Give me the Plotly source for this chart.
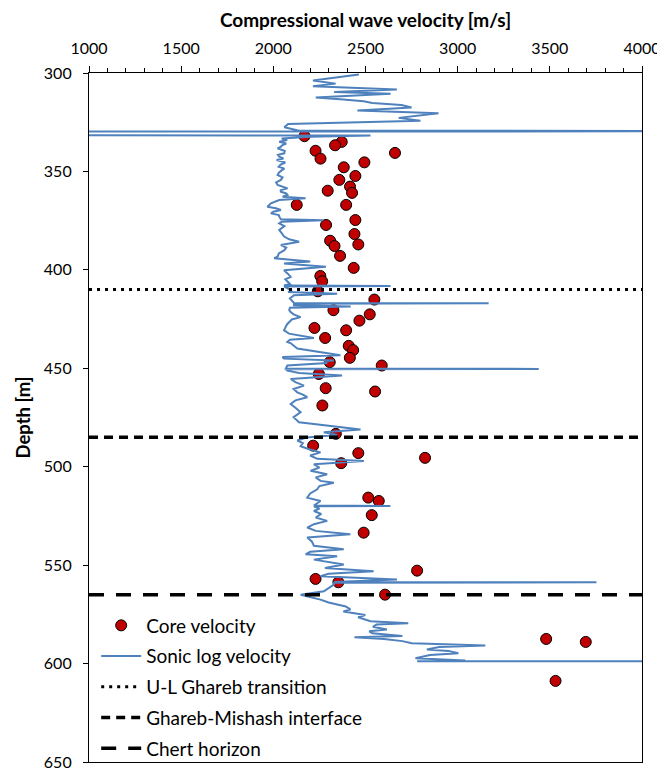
import plotly.graph_objects as go

# ---------------- data ----------------
core_velocity = [2169, 2371, 2335, 2229, 2660, 2256, 2494, 2382, 2445, 2358,
                 2416, 2427, 2295, 2127, 2395, 2445, 2286, 2440, 2308, 2332,
                 2461, 2362, 2436, 2255, 2265, 2241, 2548, 2326, 2523, 2467,
                 2223, 2395, 2281, 2409, 2433, 2415, 2306, 2588, 2247, 2284,
                 2552, 2266, 2339, 2216, 2461, 2823, 2368, 2515, 2572, 2534,
                 2490, 2780, 2229, 2353, 2606, 3480, 3695, 3531]
core_depth = [332.1, 335.0, 336.7, 339.5, 340.6, 343.5, 345.4, 347.9, 352.3, 354.3,
              357.7, 360.9, 359.8, 367.0, 367.0, 374.7, 377.2, 381.8, 385.2, 387.9,
              387.1, 392.9, 399.0, 403.1, 405.8, 410.9, 415.1, 420.5, 422.6, 425.8,
              429.5, 430.7, 434.6, 438.6, 440.8, 444.7, 446.9, 448.6, 452.9, 460.1,
              461.8, 468.9, 483.3, 489.3, 493.1, 495.5, 498.2, 515.7, 517.4, 524.6,
              533.5, 552.8, 557.0, 558.7, 565.0, 587.5, 589.0, 608.8]

log_depth = [300.8, 302.5, 303.8, 305.4, 306.7, 308.4, 309.7, 310.6, 312.4, 313.5,
             314.4, 315.2, 316.3, 317.5, 319.1, 320.4, 322.8, 324.3, 325.9, 327.6,
             328.5, 329.3, 329.55, 329.8, 331.6, 331.8, 332.4, 333.3, 334.1, 334.9,
             335.8, 336.6, 337.5, 338.3, 339.6, 340.8, 341.6, 342.5, 343.4, 344.2,
             345.5, 346.5, 347.6, 348.6, 349.5, 350.6, 351.8, 353.0, 354.3, 355.6,
             356.9, 358.6, 359.5, 360.3, 361.2, 362.0, 362.8, 363.6, 364.5, 366.2,
             367.9, 368.7, 369.6, 370.5, 371.3, 372.2, 373.0, 374.3, 374.8, 375.6,
             376.4, 377.8, 379.7, 381.4, 383.1, 384.5, 385.7, 387.4, 388.7, 390.0,
             391.6, 393.3, 394.1, 395.8, 396.8, 398.4, 400.2, 401.8, 403.6, 404.8,
             406.1, 407.2, 408.0, 408.2, 408.4, 409.2, 410.5, 411.3, 412.1, 412.9,
             414.5, 416.8, 417.0, 417.2, 418.0, 418.6, 419.2, 420.4, 421.4, 422.6,
             424.0, 425.2, 426.5, 427.6, 428.8, 430.7, 432.4, 434.6, 435.5, 436.6,
             437.3, 438.6, 440.0, 443.4, 444.3, 445.1, 446.0, 446.6, 447.3, 448.6,
             450.1, 450.3, 450.5, 451.2, 452.4, 453.7, 455.4, 457.0, 458.8, 460.5,
             462.2, 463.4, 464.7, 466.3, 468.1, 470.0, 472.3, 474.8, 477.4, 478.3,
             481.1, 482.5, 483.9, 485.2, 486.7, 488.0, 489.6, 491.0, 492.7, 494.3,
             496.0, 497.1, 498.8, 500.4, 502.1, 503.8, 505.4, 507.2, 508.1, 509.8,
             511.5, 513.6, 515.7, 517.4, 519.7, 519.9, 520.1, 521.3, 522.5, 524.0,
             525.8, 527.5, 529.2, 530.9, 532.6, 534.3, 536.0, 538.1, 540.2, 541.9,
             543.2, 544.5, 545.5, 547.2, 548.5, 549.7, 551.4, 553.1, 554.4, 555.6,
             557.3, 558.5, 558.7, 558.9, 559.9, 561.6, 563.3, 565.0, 566.2, 567.5,
             569.0, 571.0, 572.5, 573.5, 575.3, 576.5, 578.5, 579.5, 580.2, 581.3,
             582.7, 583.6, 584.6, 585.4, 586.0, 586.6, 587.5, 588.6, 589.7, 590.8,
             591.6, 592.9, 593.6, 594.7, 595.6, 597.3, 598.0, 598.5, 598.8, 599.0,
             599.0]
log_velocity = [2464, 2330, 2215, 2338, 2215, 2670, 2330, 2636, 2230, 2380,
                2490, 2537, 2695, 2750, 2456, 2896, 2680, 2798, 2080, 2060,
                2095, 2140, 6000, 0, 0, 2527, 2200, 2045, 2075, 2032,
                2070, 2050, 2040, 2023, 2062, 2059, 2025, 2032, 2055, 2018,
                2065, 2040, 2029, 2060, 2045, 2030, 2023, 2050, 2041, 2015,
                2023, 2077, 2040, 2041, 2070, 2077, 2050, 2175, 2032, 1987,
                1968, 2014, 2041, 2000, 1987, 2030, 2032, 2041, 2270, 2045,
                2032, 2060, 2032, 2045, 2059, 2086, 2140, 2041, 2070, 2060,
                2030, 2023, 2005, 2200, 2058, 2285, 2058, 2077, 2094, 2065,
                2076, 2090, 2058, 2636, 2058, 2076, 2100, 2080, 2346, 2112,
                2090, 2112, 3168, 2112, 2112, 2420, 2090, 2086, 2094, 2110,
                2148, 2100, 2085, 2075, 2068, 2058, 2085, 2220, 2090, 2076,
                2095, 2110, 2130, 2364, 2050, 2058, 2328, 2276, 2292, 2076,
                2068, 3440, 2068, 2076, 2140, 2373, 2094, 2120, 2166, 2110,
                2130, 2160, 2184, 2120, 2094, 2120, 2148, 2110, 2139, 2220,
                2473, 2274, 2346, 2180, 2130, 2160, 2148, 2190, 2256, 2200,
                2238, 2491, 2220, 2250, 2202, 2292, 2230, 2256, 2328, 2250,
                2238, 2200, 2184, 2256, 2220, 2635, 2220, 2250, 2220, 2260,
                2230, 2292, 2220, 2184, 2230, 2418, 2184, 2210, 2220, 2382,
                2200, 2175, 2346, 2220, 2300, 2382, 2280, 2544, 2300, 2256,
                2671, 2330, 3753, 2330, 2328, 2300, 2274, 2148, 2200, 2256,
                2300, 2393, 2418, 2380, 2499, 2460, 2527, 2732, 2560, 2540,
                2616, 2520, 2538, 2640, 2700, 2440, 2600, 2700, 2751, 3150,
                2900, 2833, 2950, 3004, 2850, 2771, 2900, 3042, 2780, 3011,
                6000]

horizon_names = ["U-L Ghareb transition", "Ghareb-Mishash interface", "Chert horizon"]
horizon_depths = [410, 485, 565]
horizon_dash = ["3px,5px", "9px,6px", "15px,12px"]

x_range = [1000, 4000]
x_ticks = [1000, 1500, 2000, 2500, 3000, 3500, 4000]
y_range = [650, 300]
y_ticks = [300, 350, 400, 450, 500, 550, 600, 650]

FONT = "Lato, Open Sans, sans-serif"

fig = go.Figure()

fig.add_trace(go.Scatter(
    x=core_velocity, y=core_depth, mode="markers", name="Core velocity",
    legendgroup="g1",
    marker=dict(color="#C00000", size=11, line=dict(color="black", width=1)),
))
fig.add_trace(go.Scatter(
    x=log_velocity, y=log_depth, mode="lines", name="Sonic log velocity",
    legendgroup="g2",
    line=dict(color="#4F81BD", width=2),
))
for i, (nm, dpt, ds) in enumerate(zip(horizon_names, horizon_depths, horizon_dash)):
    fig.add_trace(go.Scatter(
        x=x_range, y=[dpt, dpt], mode="lines", name=nm, legendgroup=f"h{i}",
        line=dict(color="black", width=3.5 if i else 3, dash=ds),
    ))

# page body adds an 8px offset, so the figure is drawn 8px smaller
fig.update_layout(
    width=657, height=761,
    margin=dict(l=81, r=23, t=65, b=7, autoexpand=False),
    paper_bgcolor="white", plot_bgcolor="white",
    font=dict(family=FONT, size=16, color="black"),
    showlegend=True,
    legend=dict(x=0.013, y=-0.008, xanchor="left", yanchor="bottom",
                bgcolor="rgba(255,255,255,0)", borderwidth=0,
                font=dict(family=FONT, size=19, color="black"),
                tracegroupgap=3, itemwidth=40),
    xaxis=dict(
        side="top", range=x_range, tickvals=x_ticks, showgrid=False, zeroline=False,
        showline=True, linecolor="black", linewidth=1.2, mirror=True,
        ticks="outside", ticklen=6, tickcolor="black", automargin=False,
        ticklabelstandoff=6, ticklabeloverflow="allow",
        minor=dict(dtick=100, ticks="outside", ticklen=4, tickcolor="black"),
        tickfont=dict(size=16),
        title=dict(text="<b>Compressional wave velocity [m/s]</b>", font=dict(size=19), standoff=7),
    ),
    yaxis=dict(
        range=y_range, tickvals=y_ticks, showgrid=False, zeroline=False,
        showline=True, linecolor="black", linewidth=1.2, mirror=True,
        ticks="outside", ticklen=5, tickcolor="black", automargin=False,
        ticklabelstandoff=8, ticklabeloverflow="allow",
        tickfont=dict(size=16),
        title=dict(text="<b>Depth [m]</b>", font=dict(size=18.5), standoff=8),
    ),
)

fig.write_html("out.html")
